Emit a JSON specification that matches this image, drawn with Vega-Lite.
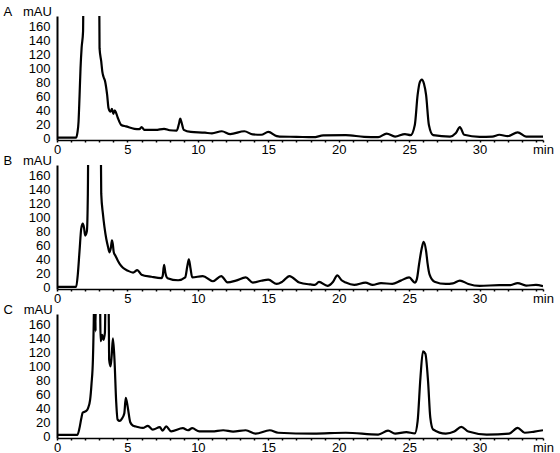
{
  "$schema": "https://vega.github.io/schema/vega-lite/v6.json",
  "padding": {"left": 3, "top": 5, "right": 0, "bottom": 0},
  "background": "white",
  "bounds": "flush",
  "spacing": 25,
  "config": {
    "view": {"stroke": null},
    "axis": {"grid": false, "domainColor": "black", "tickColor": "black", "labelColor": "black", "labelFont": "Liberation Sans", "labelFontSize": 13, "titleFont": "Liberation Sans", "titleFontSize": 13, "titleFontWeight": "normal", "titleColor": "black"}
  },
  "datasets": {
    "A": [
      {"t":0,"v":1},{"t":1.36,"v":1},{"t":1.45,"v":8},{"t":1.53,"v":24},{"t":1.6,"v":60},{"t":1.67,"v":100},{"t":1.75,"v":130},{"t":1.85,"v":153},{"t":1.95,"v":600},{"t":2.88,"v":600},{"t":3.02,"v":129},{"t":3.14,"v":110},{"t":3.22,"v":95},{"t":3.3,"v":88},{"t":3.42,"v":81},{"t":3.56,"v":62},{"t":3.66,"v":43},{"t":3.8,"v":38},{"t":3.9,"v":42},{"t":4.0,"v":35},{"t":4.1,"v":40},{"t":4.2,"v":36},{"t":4.32,"v":29},{"t":4.56,"v":19},{"t":4.9,"v":17},{"t":5.5,"v":13.5},{"t":5.85,"v":13},{"t":6.0,"v":16},{"t":6.2,"v":12},{"t":7.0,"v":12},{"t":7.6,"v":13.5},{"t":8.0,"v":11.5},{"t":8.5,"v":11},{"t":8.65,"v":20},{"t":8.75,"v":28},{"t":8.85,"v":22},{"t":9.0,"v":12},{"t":9.5,"v":9},{"t":10.5,"v":8},{"t":11.0,"v":7},{"t":11.7,"v":10},{"t":12.3,"v":6},{"t":13.3,"v":10},{"t":13.9,"v":5.5},{"t":14.5,"v":5},{"t":15.0,"v":9},{"t":15.6,"v":3},{"t":15.8,"v":2.4},{"t":17.0,"v":2},{"t":18.2,"v":1.5},{"t":18.9,"v":4},{"t":20.5,"v":4.5},{"t":21.8,"v":2},{"t":22.8,"v":1.5},{"t":23.4,"v":6.7},{"t":24.0,"v":2.4},{"t":24.7,"v":6},{"t":25.1,"v":4.5},{"t":25.4,"v":19},{"t":25.6,"v":62},{"t":25.75,"v":80},{"t":25.9,"v":84},{"t":26.05,"v":78},{"t":26.2,"v":62},{"t":26.4,"v":19},{"t":26.7,"v":4.5},{"t":27.9,"v":2.4},{"t":28.3,"v":7},{"t":28.6,"v":16},{"t":28.9,"v":5},{"t":30.0,"v":2},{"t":30.9,"v":2.4},{"t":31.4,"v":5},{"t":32.0,"v":3},{"t":32.7,"v":8.5},{"t":33.3,"v":2.4},{"t":34.5,"v":2.4}
    ],
    "B": [
      {"t":0,"v":0.5},{"t":1.36,"v":0.5},{"t":1.48,"v":19},{"t":1.6,"v":52},{"t":1.72,"v":84},{"t":1.83,"v":91},{"t":1.92,"v":85},{"t":2.0,"v":74},{"t":2.12,"v":80},{"t":2.19,"v":134},{"t":2.3,"v":500},{"t":2.98,"v":500},{"t":3.14,"v":134},{"t":3.26,"v":105},{"t":3.37,"v":86},{"t":3.5,"v":69},{"t":3.62,"v":58},{"t":3.73,"v":50},{"t":3.82,"v":56},{"t":3.9,"v":67},{"t":3.96,"v":62},{"t":4.03,"v":50},{"t":4.15,"v":45},{"t":4.32,"v":38},{"t":4.5,"v":32},{"t":4.68,"v":28},{"t":5.0,"v":24},{"t":5.4,"v":21},{"t":5.7,"v":24.5},{"t":6.0,"v":18},{"t":6.7,"v":15},{"t":7.4,"v":13},{"t":7.5,"v":16},{"t":7.6,"v":32},{"t":7.7,"v":20},{"t":7.85,"v":13},{"t":8.6,"v":10},{"t":9.1,"v":14},{"t":9.25,"v":30},{"t":9.36,"v":40},{"t":9.47,"v":28},{"t":9.6,"v":14},{"t":10.35,"v":16},{"t":11.07,"v":8.6},{"t":11.66,"v":16},{"t":12.1,"v":7},{"t":12.7,"v":9.5},{"t":13.4,"v":14},{"t":13.9,"v":6.7},{"t":14.5,"v":9.3},{"t":15.0,"v":11},{"t":15.6,"v":4.7},{"t":16.0,"v":8},{"t":16.5,"v":16},{"t":17.2,"v":6.7},{"t":18.0,"v":4},{"t":18.3,"v":3.4},{"t":18.6,"v":7.6},{"t":19.2,"v":2},{"t":19.6,"v":8},{"t":19.9,"v":17},{"t":20.2,"v":10},{"t":20.5,"v":6.7},{"t":21.1,"v":3.4},{"t":21.9,"v":6.7},{"t":22.4,"v":3.4},{"t":23.0,"v":6},{"t":23.8,"v":4.7},{"t":24.4,"v":9.5},{"t":25.0,"v":14},{"t":25.4,"v":6.7},{"t":25.55,"v":12},{"t":25.7,"v":32.6},{"t":25.9,"v":56.6},{"t":26.03,"v":65},{"t":26.2,"v":52},{"t":26.3,"v":35},{"t":26.45,"v":18},{"t":26.8,"v":8},{"t":27.6,"v":4.7},{"t":28.1,"v":5.5},{"t":28.6,"v":9.6},{"t":29.2,"v":4.7},{"t":30.0,"v":2},{"t":31.4,"v":3},{"t":32.2,"v":3},{"t":32.7,"v":6},{"t":33.3,"v":2.4},{"t":34.0,"v":3.4},{"t":34.5,"v":1.5}
    ],
    "C": [
      {"t":0,"v":2},{"t":1.45,"v":2},{"t":1.6,"v":12},{"t":1.72,"v":25},{"t":1.83,"v":34},{"t":2.05,"v":36},{"t":2.2,"v":40},{"t":2.35,"v":52},{"t":2.45,"v":75},{"t":2.55,"v":110},{"t":2.62,"v":180},{"t":2.68,"v":300},{"t":2.74,"v":150},{"t":2.8,"v":300},{"t":3.0,"v":300},{"t":3.1,"v":136},{"t":3.2,"v":145},{"t":3.3,"v":138},{"t":3.4,"v":148},{"t":3.5,"v":300},{"t":3.62,"v":300},{"t":3.7,"v":110},{"t":3.8,"v":100},{"t":3.88,"v":115},{"t":3.97,"v":140},{"t":4.08,"v":110},{"t":4.2,"v":50},{"t":4.3,"v":24},{"t":4.45,"v":22},{"t":4.6,"v":25},{"t":4.78,"v":33},{"t":4.88,"v":55},{"t":4.95,"v":50},{"t":5.05,"v":38},{"t":5.2,"v":20},{"t":5.4,"v":15},{"t":5.6,"v":14},{"t":6.1,"v":12},{"t":6.45,"v":15},{"t":6.8,"v":9.6},{"t":7.3,"v":13},{"t":7.5,"v":8},{"t":7.75,"v":14},{"t":8.1,"v":7},{"t":8.93,"v":11.5},{"t":9.3,"v":8.6},{"t":9.6,"v":11.5},{"t":10.1,"v":7},{"t":11.0,"v":7},{"t":11.8,"v":8.6},{"t":12.5,"v":6.7},{"t":13.4,"v":8.6},{"t":14.1,"v":3.8},{"t":15.1,"v":8.6},{"t":15.7,"v":5},{"t":18.2,"v":3.8},{"t":20.5,"v":5},{"t":22.8,"v":2.4},{"t":23.5,"v":8},{"t":24.0,"v":3.8},{"t":24.8,"v":6},{"t":25.4,"v":4},{"t":25.6,"v":21.6},{"t":25.8,"v":84},{"t":25.98,"v":121.6},{"t":26.15,"v":118},{"t":26.34,"v":79},{"t":26.5,"v":26.5},{"t":26.7,"v":9.6},{"t":27.6,"v":3.8},{"t":28.2,"v":6.7},{"t":28.7,"v":13.5},{"t":29.2,"v":6.7},{"t":30.5,"v":2.4},{"t":32.1,"v":3.8},{"t":32.7,"v":12},{"t":33.2,"v":5},{"t":33.9,"v":6.7},{"t":34.5,"v":8.6}
    ]
  },
  "vconcat": [
    {
      "width": 486, "height": 124,
      "data": {"name": "A"},
      "mark": {"type": "line", "color": "black", "strokeWidth": 2.2, "clip": true, "interpolate": "monotone"},
      "encoding": {
        "x": {"field": "t", "type": "quantitative", "scale": {"domain": [0, 34.5], "nice": false, "zero": false},
          "axis": {"title": null, "values": [0,1,2,3,4,5,6,7,8,9,10,11,12,13,14,15,16,17,18,19,20,21,22,23,24,25,26,27,28,29,30,31,32,33,34,34.5], "labelExpr": "datum.value > 34.2 ? 'min' : (datum.value % 5 == 0 ? datum.label : '')", "labelFlush": false, "labelOverlap": false, "tickSize": 2, "tickWidth": 1.5, "domainWidth": 1.5, "labelPadding": 1}},
        "y": {"field": "v", "type": "quantitative", "scale": {"domain": [-2.5, 175], "nice": false, "zero": false},
          "axis": {"title": "A\u00a0\u00a0\u00a0mAU", "titleAngle": 0, "titleAlign": "left", "titleBaseline": "alphabetic", "titleX": -54, "titleY": -1, "values": [0,20,40,60,80,100,120,140,160], "tickSize": 0, "labelPadding": 7, "domainWidth": 2}}
      }
    },
    {
      "width": 486, "height": 124,
      "data": {"name": "B"},
      "mark": {"type": "line", "color": "black", "strokeWidth": 2.2, "clip": true, "interpolate": "monotone"},
      "encoding": {
        "x": {"field": "t", "type": "quantitative", "scale": {"domain": [0, 34.5], "nice": false, "zero": false},
          "axis": {"title": null, "values": [0,1,2,3,4,5,6,7,8,9,10,11,12,13,14,15,16,17,18,19,20,21,22,23,24,25,26,27,28,29,30,31,32,33,34,34.5], "labelExpr": "datum.value > 34.2 ? 'min' : (datum.value % 5 == 0 ? datum.label : '')", "labelFlush": false, "labelOverlap": false, "tickSize": 2, "tickWidth": 1.5, "domainWidth": 1.5, "labelPadding": 1}},
        "y": {"field": "v", "type": "quantitative", "scale": {"domain": [-2.5, 175], "nice": false, "zero": false},
          "axis": {"title": "B\u00a0\u00a0\u00a0mAU", "titleAngle": 0, "titleAlign": "left", "titleBaseline": "alphabetic", "titleX": -54, "titleY": -1, "values": [0,20,40,60,80,100,120,140,160], "tickSize": 0, "labelPadding": 7, "domainWidth": 2}}
      }
    },
    {
      "width": 486, "height": 124,
      "data": {"name": "C"},
      "mark": {"type": "line", "color": "black", "strokeWidth": 2.2, "clip": true, "interpolate": "monotone"},
      "encoding": {
        "x": {"field": "t", "type": "quantitative", "scale": {"domain": [0, 34.5], "nice": false, "zero": false},
          "axis": {"title": null, "values": [0,1,2,3,4,5,6,7,8,9,10,11,12,13,14,15,16,17,18,19,20,21,22,23,24,25,26,27,28,29,30,31,32,33,34,34.5], "labelExpr": "datum.value > 34.2 ? 'min' : (datum.value % 5 == 0 ? datum.label : '')", "labelFlush": false, "labelOverlap": false, "tickSize": 2, "tickWidth": 1.5, "domainWidth": 1.5, "labelPadding": 1}},
        "y": {"field": "v", "type": "quantitative", "scale": {"domain": [-2.5, 175], "nice": false, "zero": false},
          "axis": {"title": "C\u00a0\u00a0\u00a0mAU", "titleAngle": 0, "titleAlign": "left", "titleBaseline": "alphabetic", "titleX": -54, "titleY": -1, "values": [0,20,40,60,80,100,120,140,160], "tickSize": 0, "labelPadding": 7, "domainWidth": 2}}
      }
    }
  ]
}
